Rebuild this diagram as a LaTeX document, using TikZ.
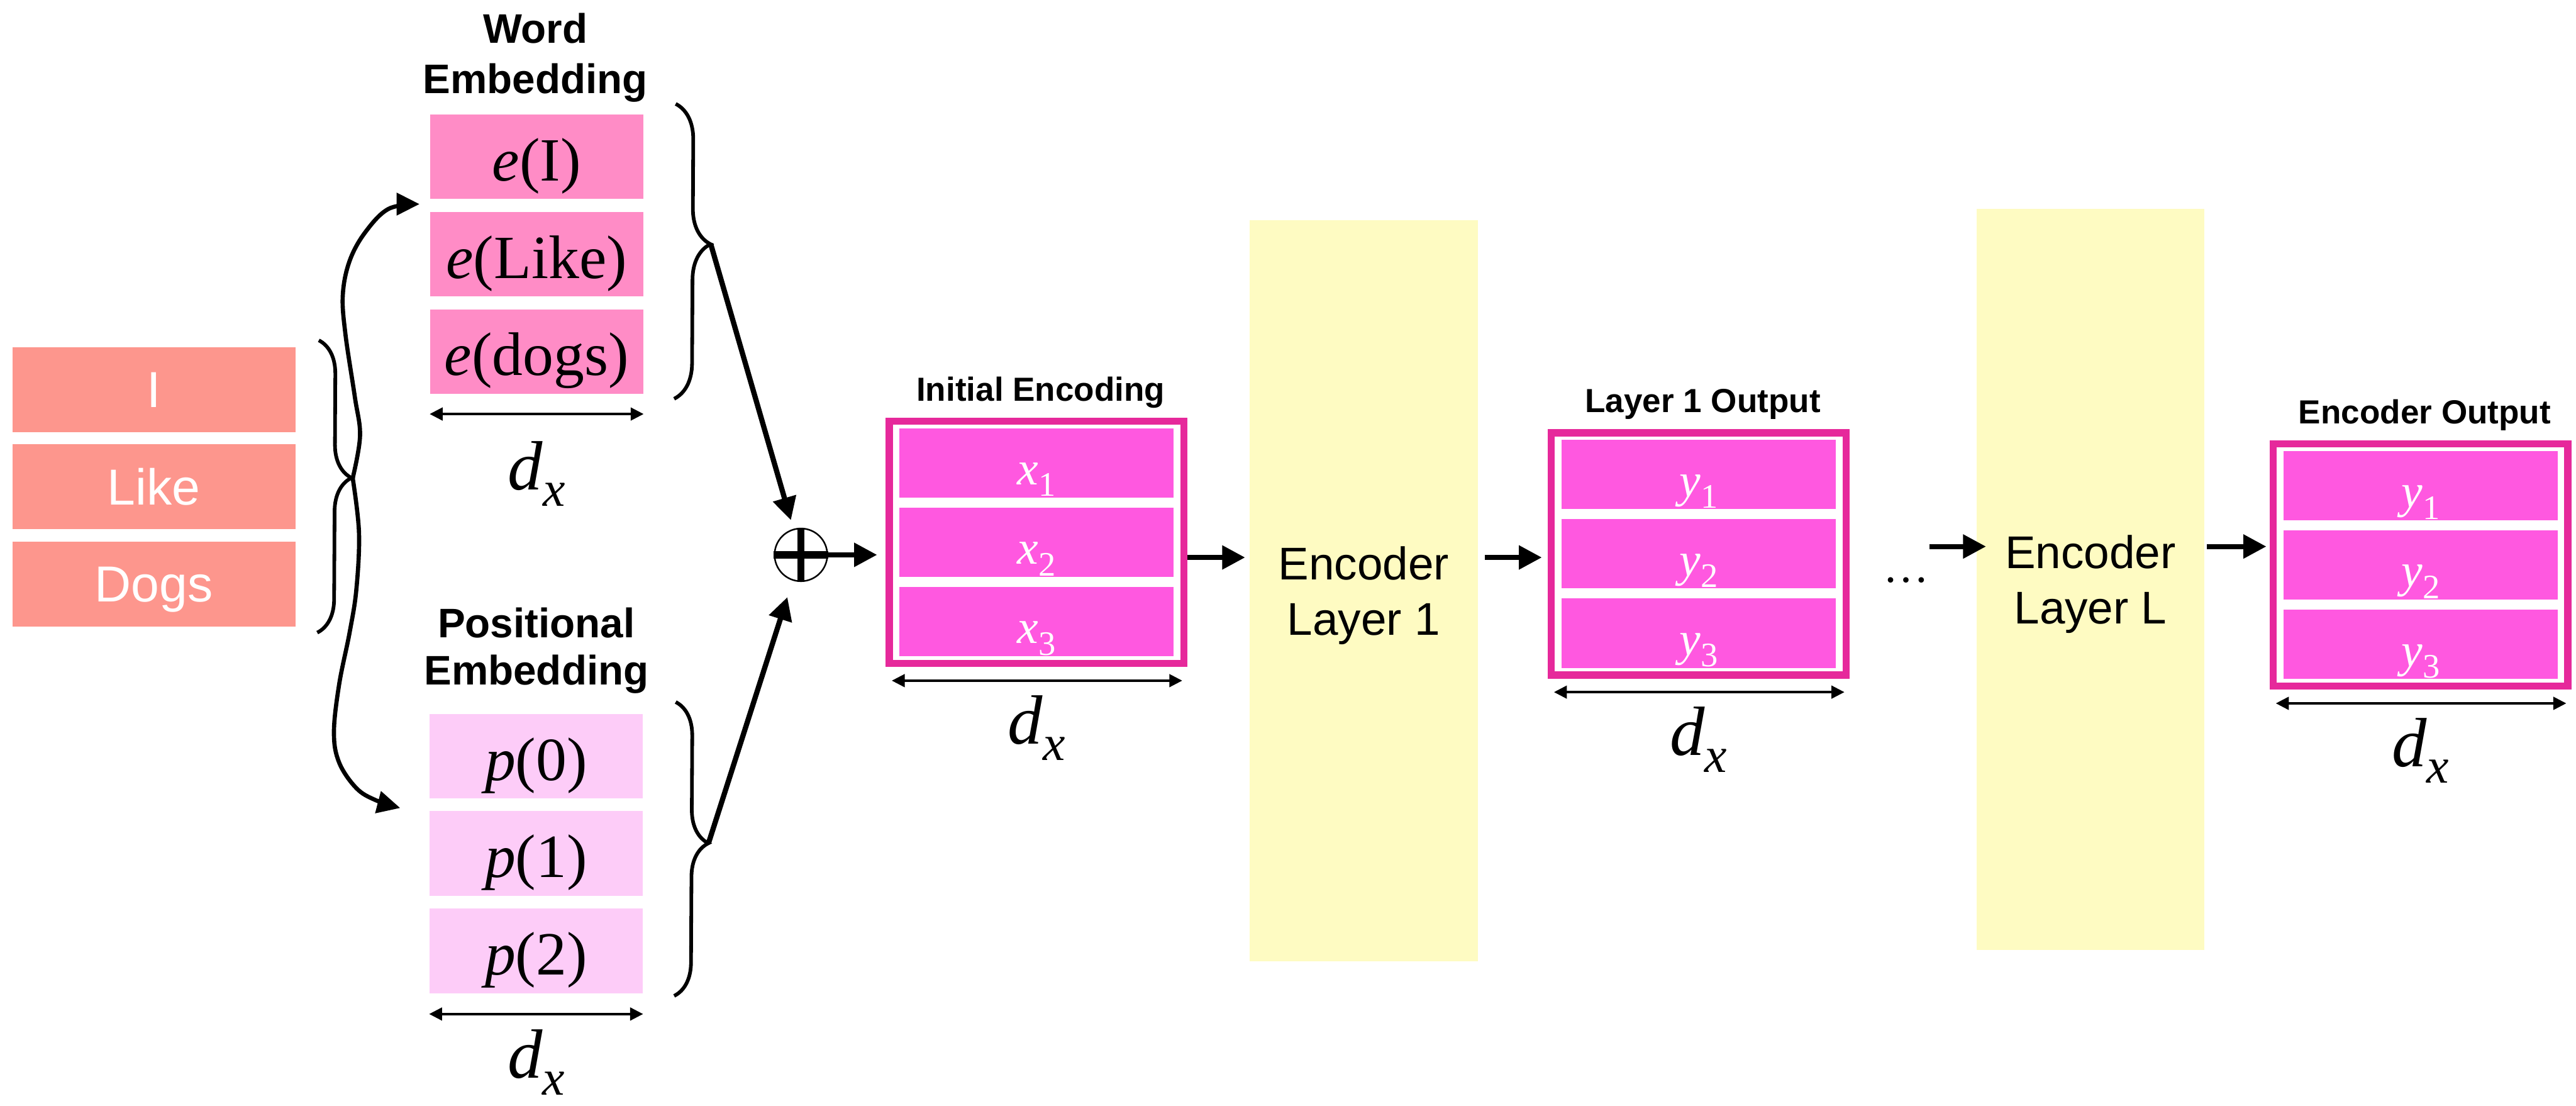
\documentclass[tikz,border=0pt]{standalone}
\usepackage{fontspec}
\setmainfont{Liberation Sans}
\newfontfamily\tms{Liberation Serif}
\usetikzlibrary{shapes, backgrounds, arrows, arrows.meta, positioning, decorations.pathreplacing}

\definecolor{tokred}{RGB}{253,150,141}
\definecolor{wordpink}{RGB}{255,140,198}
\definecolor{pospink}{RGB}{253,204,248}
\definecolor{rowpink}{RGB}{255,88,224}
\definecolor{edgepink}{RGB}{230,41,155}
\definecolor{layeryellow}{RGB}{254,251,194}

% italic symbol with a lowered subscript, and e(I)-like labels
\newcommand{\sv}[2]{{\tms\itshape #1}\raisebox{-0.24em}{\scalebox{0.72}{\tms #2}}}
\newcommand{\fn}[2]{{\tms\itshape #1}{\tms (#2)}}

\begin{document}
\begin{tikzpicture}
        \tikzstyle{every node}=[align=center, inner sep=0pt]
        \tikzstyle{tok}=[fill=tokred, minimum width=5.42cm, minimum height=1.63cm, text=white, text depth=0pt, font=\fontsize{27.6}{30}\selectfont]
        \tikzstyle{wemb}=[fill=wordpink, minimum width=4.09cm, minimum height=1.62cm, text height=1.0cm, text depth=0.08cm, font=\fontsize{33.5}{36}\selectfont]
        \tikzstyle{pemb}=[wemb, fill=pospink]
        \tikzstyle{outbox}=[draw=edgepink, line width=0.14cm, minimum width=5.65cm, minimum height=4.64cm]
        \tikzstyle{rowbox}=[fill=rowpink, minimum width=5.26cm, minimum height=1.33cm, text=white, text height=0.9cm, text depth=0.06cm, font=\fontsize{26}{28}\selectfont]
        \tikzstyle{enclayer}=[fill=layeryellow, minimum width=4.37cm, minimum height=14.2cm, text depth=0pt, font=\fontsize{25}{30}\selectfont]
        \tikzstyle{head}=[anchor=south, font=\bfseries\fontsize{22.5}{27.5}\selectfont]
        \tikzstyle{smallhead}=[anchor=base, font=\bfseries\fontsize{18.2}{20}\selectfont]
        \tikzstyle{dxlab}=[anchor=base, font=\fontsize{38}{40}\selectfont]
        \tikzstyle{arr}=[line width=0.1cm, -{Triangle[length=0.44cm, width=0.44cm]}]
        \tikzstyle{curvearr}=[line width=0.08cm, -{Triangle[length=0.44cm, width=0.42cm]}]
        \tikzstyle{dim}=[line width=0.055cm, {Triangle[length=0.25cm, width=0.24cm]}-{Triangle[length=0.25cm, width=0.24cm]}]
        \tikzstyle{brc}=[line width=0.07cm, decorate, decoration={brace, amplitude=0.66cm, aspect=0.475}]

        \fill[white] (0, 0) rectangle (49.37, -21.18);
        \useasboundingbox (0, 0) rectangle (49.37, -21.18);

        % input words
        \node at (2.95, -7.465) [tok] (tI) {I};
        \node at (2.95, -9.325) [tok] (tLike) {Like};
        \node at (2.95, -11.195) [tok] (tDogs) {Dogs};

        % word embedding
        \node at (10.26, -1.97) [head] (whead) {Word\\Embedding};
        \node at (10.285, -3.0) [wemb] (eI) {\fn{e}{I}};
        \node at (10.285, -4.87) [wemb] (eLike) {\fn{e}{Like}};
        \node at (10.285, -6.735) [wemb] (edogs) {\fn{e}{dogs}};
        \draw[dim] ([yshift=-0.38cm]edogs.south west) -- ([yshift=-0.38cm]edogs.south east);
        \node at ([yshift=-1.83cm]edogs.south) [dxlab] (wdx) {\sv{d}{\itshape x}};

        % positional embedding
        \node at (10.28, -13.30) [head, font=\bfseries\fontsize{22.5}{26}\selectfont] (phead) {Positional\\Embedding};
        \node at (10.275, -14.49) [pemb] (p0) {\fn{p}{0}};
        \node at (10.275, -16.35) [pemb] (p1) {\fn{p}{1}};
        \node at (10.275, -18.22) [pemb] (p2) {\fn{p}{2}};
        \draw[dim] ([yshift=-0.39cm]p2.south west) -- ([yshift=-0.39cm]p2.south east);
        \node at ([yshift=-1.62cm]p2.south) [dxlab] (pdx) {\sv{d}{\itshape x}};

        % braces and their tips
        \coordinate (tk) at (6.76, -9.16);
        \coordinate (wb) at (13.62, -4.67);
        \coordinate (pb) at (13.58, -16.15);
        \coordinate (wt) at (8.04, -3.91);
        \coordinate (pt) at (7.67, -15.48);
        \draw[brc, decoration={amplitude=0.64cm, aspect=0.47}] (6.11, -6.52) -- (6.08, -12.12);
        \draw[brc, decoration={amplitude=0.68cm, aspect=0.475}] (12.95, -1.99) -- (12.92, -7.64);
        \draw[brc, decoration={amplitude=0.64cm, aspect=0.48}] (12.95, -13.45) -- (12.92, -19.08);

        \draw[curvearr] plot[smooth, tension=0.6] coordinates {(tk) (6.90, -8.35) (6.80, -7.60) (6.62, -6.40) (6.57, -5.65) (6.70, -5.00) (7.00, -4.45) (7.45, -4.00) (wt)};
        \draw[curvearr] plot[smooth, tension=0.6] coordinates {(tk) (6.88, -10.20) (6.83, -11.29) (6.70, -12.12) (6.50, -13.11) (6.40, -14.03) (6.50, -14.61) (6.83, -15.10) (7.20, -15.33) (pt)};

        % sum
        \node at (15.35, -10.63) [circle, draw, line width=0.03cm, minimum size=1.01cm] (plus) {};
        \draw[line width=0.14cm] (plus.north) -- (plus.south) (plus.west) -- (plus.east);
        \draw[arr, shorten >=0.17cm] (wb) -- (plus);
        \draw[arr, shorten >=0.33cm] (pb) -- (plus);

        % encodings
        \foreach \b/\cx/\cy/\v/\t in {ienc/19.865/-10.39/x/Initial Encoding, lout/32.555/-10.61/y/Layer 1 Output, eout/46.39/-10.825/y/Encoder Output} {
            \node at (\cx, \cy) [outbox] (\b) {};
            \node at ([shift={(0.08, 0.32)}]\b.north) [smallhead] (\b-head) {\t};
            \foreach \i/\dy in {1/1.52, 2/0, 3/-1.52}
                \node at (\cx, \cy+\dy) [rowbox] (\b\i) {\sv{\v}{\i}};
            \draw[dim] ([shift={(0.12, -0.26)}]\b.south west) -- ([shift={(-0.1, -0.26)}]\b.south east);
            \node at ([yshift=-1.47cm]\b.south) [dxlab] (\b-dx) {\sv{d}{\itshape x}};
        }

        % encoder layers
        \node at (26.135, -11.32) [enclayer] (enc1) {Encoder\\Layer 1};
        \node at (40.065, -11.10) [enclayer] (encL) {Encoder\\Layer L};
        \node at (36.53, -11.11) [font=\tms\fontsize{25}{27}\selectfont] (dots) {\dots};

        \coordinate (lv1) at (0, -10.68);
        \coordinate (lv2) at (0, -10.47);
        \draw[arr, shorten >=0.16cm] (plus.east) -- (ienc.west |- plus);
        \draw[arr, shorten >=0.08cm] (ienc.east |- lv1) -- (enc1.west |- lv1);
        \draw[arr, shorten <=0.13cm, shorten >=0.11cm] (enc1.east |- lv1) -- (lout.west |- lv1);
        \draw[arr, shorten >=-0.19cm] (dots.east |- lv2) -- (encL.west |- lv2);
        \draw[arr, shorten <=0.04cm, shorten >=0.06cm] (encL.east |- lv2) -- (eout.west |- lv2);
\end{tikzpicture}
\end{document}
